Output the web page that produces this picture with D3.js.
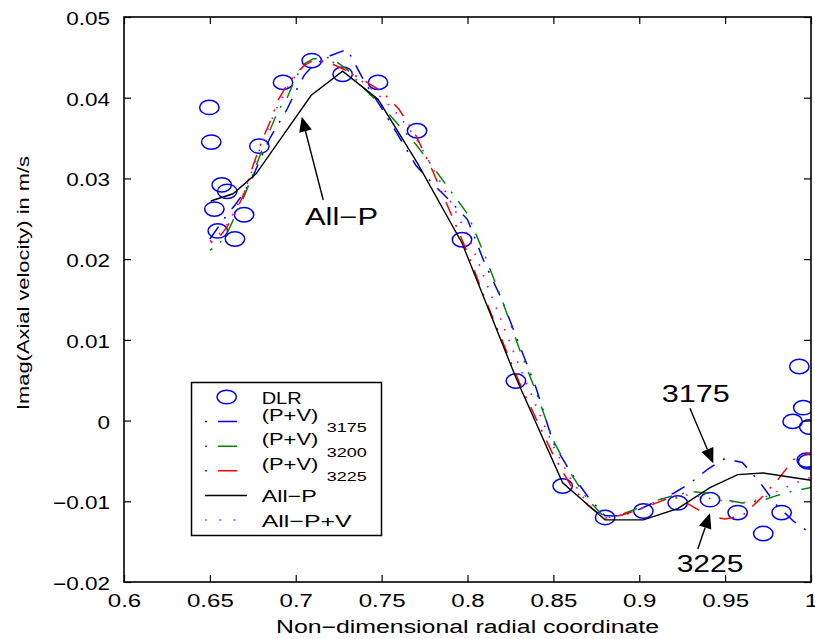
<!DOCTYPE html>
<html><head><meta charset="utf-8">
<script src="https://cdn.jsdelivr.net/npm/d3@7"></script>
<style>
body{margin:0;background:#fff}
svg{display:block}
text{font-family:"Liberation Sans",Arial,Helvetica,sans-serif;fill:#000}
</style>
</head><body>
<svg id="chart" width="815" height="639"></svg>
<script>
// ---------------- data ----------------
const dlrX = [0.6497,0.6508,0.6526,0.6546,0.6569,0.6601,0.6646,0.6699,0.6788,0.6926,0.7093,0.7273,0.7479,0.7706,0.7968,0.8282,0.8554,0.8801,0.9024,0.9224,0.9412,0.9573,0.9722,0.9829,0.9893,0.9932,0.9955,0.9990,0.9975,0.9983];
const dlrY = [0.0388,0.0345,0.0262,0.0235,0.0292,0.0284,0.0225,0.0255,0.0340,0.0419,0.0446,0.0429,0.0419,0.0359,0.0224,0.0049,-0.0081,-0.0120,-0.0112,-0.0102,-0.0098,-0.0114,-0.0140,-0.0114,-0.0001,0.0067,0.0016,-0.0008,-0.0049,-0.0051];

const allPX = [0.6505,0.6635,0.6770,0.7090,0.7273,0.7479,0.7706,0.7968,0.8282,0.8554,0.8801,0.9024,0.9224,0.9412,0.9573,0.9722,1.0000];
const allPY = [0.0272,0.0281,0.0306,0.0403,0.0433,0.0398,0.0320,0.0220,0.0053,-0.0077,-0.0123,-0.0123,-0.0109,-0.0083,-0.0067,-0.0065,-0.0074];

const simX = [0.650,0.655,0.660,0.665,0.670,0.675,0.680,0.685,0.690,0.695,0.700,0.705,0.710,0.720,0.730,0.740,0.750,0.760,0.770,0.780,0.790,0.800,0.810,0.820,0.830,0.840,0.850,0.860,0.870,0.880,0.890,0.900,0.910,0.920,0.930,0.940,0.950,0.960,0.970,0.980,0.990,1.000];
const pv3175 = [0.0225,0.0240,0.0255,0.0268,0.0283,0.0302,0.0327,0.0350,0.0368,0.0386,0.0408,0.0428,0.0440,0.0452,0.0460,0.0420,0.0387,0.0352,0.0316,0.0293,0.0272,0.0249,0.0195,0.0150,0.0095,0.0040,-0.0028,-0.0064,-0.0094,-0.0118,-0.0118,-0.0110,-0.0100,-0.0090,-0.0077,-0.0060,-0.0047,-0.0052,-0.0076,-0.0105,-0.0125,-0.0140];
const pv3200 = [0.0211,0.0218,0.0232,0.0255,0.0278,0.0305,0.0333,0.0360,0.0385,0.0400,0.0425,0.0442,0.0448,0.0450,0.0435,0.0411,0.0390,0.0366,0.0342,0.0314,0.0285,0.0256,0.0205,0.0150,0.0090,0.0035,-0.0025,-0.0065,-0.0098,-0.0120,-0.0116,-0.0108,-0.0099,-0.0093,-0.0088,-0.0090,-0.0098,-0.0102,-0.0100,-0.0093,-0.0087,-0.0083];
const pv3225 = [0.0220,0.0226,0.0240,0.0258,0.0282,0.0315,0.0345,0.0370,0.0398,0.0416,0.0430,0.0440,0.0446,0.0443,0.0433,0.0421,0.0408,0.0386,0.0353,0.0308,0.0258,0.0208,0.0152,0.0100,0.0048,0.0002,-0.0043,-0.0080,-0.0105,-0.0121,-0.0117,-0.0110,-0.0102,-0.0094,-0.0105,-0.0118,-0.0122,-0.0118,-0.0098,-0.0075,-0.0048,-0.0040];
const allPV  = [0.0222,0.0230,0.0243,0.0262,0.0283,0.0312,0.0342,0.0368,0.0392,0.0412,0.0428,0.0440,0.0446,0.0446,0.0434,0.0418,0.0400,0.0378,0.0350,0.0312,0.0272,0.0230,0.0176,0.0122,0.0068,0.0018,-0.0032,-0.0072,-0.0103,-0.0121,-0.0117,-0.0110,-0.0100,-0.0093,-0.0092,-0.0096,-0.0100,-0.0102,-0.0098,-0.0088,-0.0078,-0.0070];

const xTicks = [0.6,0.65,0.7,0.75,0.8,0.85,0.9,0.95,1];
const xTickLabels = ["0.6","0.65","0.7","0.75","0.8","0.85","0.9","0.95","1"];
const yTicks = [-0.02,-0.01,0,0.01,0.02,0.03,0.04,0.05];
const yTickLabels = ["\u22120.02","\u22120.01","0","0.01","0.02","0.03","0.04","0.05"];

const xLabel = "Non\u2212dimensional radial coordinate";
const yLabel = "Imag(Axial velocity) in m/s";

const legendNames = ["DLR","(P+V)","(P+V)","(P+V)","All\u2212P","All\u2212P+V"];
const legendSubs  = ["","3175","3200","3225","",""];

// annotations: text anchor, arrow tail, arrow tip (data coords)
const annText = ["All\u2212P","3175","3225"];
const annTextX = [0.7054,0.9131,0.9218];
const annTextY = [0.02423,0.00234,-0.01873];
const annTailX = [0.7160,0.9295,0.9341];
const annTailY = [0.02733,0.00152,-0.01590];
const annTipX  = [0.7035,0.9431,0.9412];
const annTipY  = [0.03765,-0.00530,-0.01149];

// ---------------- layout ----------------
const W=815,H=639, L=124,R=811,T=17,B=582;
const svg = d3.select("#chart");
svg.append("rect").attr("width",W).attr("height",H).attr("fill","#fff");
const x = d3.scaleLinear().domain([0.6,1]).range([L,R]);
const y = d3.scaleLinear().domain([-0.02,0.05]).range([B,T]);

svg.append("defs").append("clipPath").attr("id","clip")
  .append("rect").attr("x",L).attr("y",T).attr("width",R-L).attr("height",B-T);

const plot = svg.append("g").attr("clip-path","url(#clip)");
const line = d3.line().x(d=>x(d[0])).y(d=>y(d[1]));

// DLR circles
plot.selectAll("ellipse.dlr").data(dlrX.map((v,i)=>[v,dlrY[i]])).join("ellipse")
  .attr("class","dlr").attr("cx",d=>x(d[0])).attr("cy",d=>y(d[1]))
  .attr("rx",9.7).attr("ry",7.2).attr("fill","none").attr("stroke","#0000ff").attr("stroke-width",1.5);

const dashDot = "15,10,2,10";
const series = [
  {ys:pv3175,color:"#0000ff",dash:dashDot,off:0},
  {ys:pv3200,color:"#008a00",dash:dashDot,off:12},
  {ys:pv3225,color:"#ff0000",dash:dashDot,off:24},
];
series.forEach(s=>{
  plot.append("path").datum(simX.map((v,i)=>[v,s.ys[i]])).attr("d",line)
    .attr("fill","none").attr("stroke",s.color).attr("stroke-width",1.5)
    .attr("stroke-dasharray",s.dash).attr("stroke-dashoffset",s.off);
});
plot.append("path").datum(allPX.map((v,i)=>[v,allPY[i]])).attr("d",line)
  .attr("fill","none").attr("stroke","#000").attr("stroke-width",1.4);
plot.append("path").datum(simX.map((v,i)=>[v,allPV[i]])).attr("d",line)
  .attr("fill","none").attr("stroke","#e000e0").attr("stroke-width",1.6)
  .attr("stroke-dasharray","1.6,10");

// ---------------- axes ----------------
function styleAxis(g){ g.select(".domain").remove(); g.selectAll("line").attr("stroke","#000").attr("stroke-width",1.2); }
const xAxis = svg.append("g").attr("transform",`translate(0,${B})`)
  .call(d3.axisBottom(x).tickValues(xTicks).tickFormat((d,i)=>xTickLabels[i]).tickSizeInner(-7).tickSizeOuter(0).tickPadding(10));
styleAxis(xAxis);
xAxis.selectAll("text").attr("font-size",18.5).attr("dy",null).attr("y",0)
  .attr("transform","translate(0,25) scale(1.3,1)");
const xTop = svg.append("g").attr("transform",`translate(0,${T})`)
  .call(d3.axisTop(x).tickValues(xTicks).tickFormat("").tickSizeInner(-7).tickSizeOuter(0));
styleAxis(xTop);
const yAxis = svg.append("g").attr("transform",`translate(${L},0)`)
  .call(d3.axisLeft(y).tickValues(yTicks).tickFormat((d,i)=>yTickLabels[i]).tickSizeInner(-7).tickSizeOuter(0).tickPadding(14));
styleAxis(yAxis);
yAxis.selectAll("text").attr("font-size",18).attr("x",0).attr("dy","0.36em")
  .attr("transform","translate(-14,1) scale(1.25,1)");
const yRight = svg.append("g").attr("transform",`translate(${R},0)`)
  .call(d3.axisRight(y).tickValues(yTicks).tickFormat("").tickSizeInner(-7).tickSizeOuter(0));
styleAxis(yRight);
svg.append("rect").attr("x",L).attr("y",T).attr("width",R-L).attr("height",B-T)
  .attr("fill","none").attr("stroke","#000").attr("stroke-width",1.6);

svg.append("text").attr("x",(L+R)/2).attr("y",633).attr("text-anchor","middle")
  .attr("font-size",18).attr("textLength",383).attr("lengthAdjust","spacingAndGlyphs").text(xLabel);
svg.append("text").attr("transform","translate(29,283) rotate(-90)").attr("text-anchor","middle")
  .attr("font-size",16.5).attr("textLength",254).attr("lengthAdjust","spacingAndGlyphs").text(yLabel);

// ---------------- annotations ----------------
const annWidths = [73,68,66.7];
annText.forEach((t,i)=>{
  svg.append("text").attr("x",x(annTextX[i])).attr("y",y(annTextY[i])).attr("font-size",23)
    .attr("textLength",annWidths[i]).attr("lengthAdjust","spacingAndGlyphs").text(t);
  const x1=x(annTailX[i]),y1=y(annTailY[i]),x2=x(annTipX[i]),y2=y(annTipY[i]);
  const dx=x2-x1,dy=y2-y1,len=Math.hypot(dx,dy),ux=dx/len,uy=dy/len;
  const hl=15,hw=6.5;
  const bx=x2-ux*hl,by=y2-uy*hl;
  svg.append("line").attr("x1",x1).attr("y1",y1).attr("x2",bx).attr("y2",by)
    .attr("stroke","#000").attr("stroke-width",1.4);
  svg.append("path").attr("d",`M${x2},${y2}L${bx-uy*hw},${by+ux*hw}L${bx+uy*hw},${by-ux*hw}Z`).attr("fill","#000");
});

// ---------------- legend ----------------
const lg = svg.append("g");
lg.append("rect").attr("x",191.5).attr("y",382.5).attr("width",190).attr("height",153)
  .attr("fill","#fff").attr("stroke","#000").attr("stroke-width",1.5);
const legendStyles = [
  {type:"circle",color:"#0000ff"},
  {type:"line",color:"#0000ff",dash:"2,11,19,11"},
  {type:"line",color:"#008a00",dash:"2,11,19,11"},
  {type:"line",color:"#ff0000",dash:"2,11,19,11"},
  {type:"line",color:"#000",dash:null},
  {type:"line",color:"#e000e0",dash:"1.6,12.7"}
];
const legendWidths = [40,56.7,56.7,56.7,55,90];
legendNames.forEach((n,i)=>{
  const ry = 397 + i*24.6;
  const st = legendStyles[i];
  if(st.type==="circle"){
    lg.append("ellipse").attr("cx",226.7).attr("cy",ry).attr("rx",9.7).attr("ry",6.8)
      .attr("fill","none").attr("stroke",st.color).attr("stroke-width",1.5);
  } else {
    const l = lg.append("line").attr("x1",205).attr("x2",247).attr("y1",ry).attr("y2",ry)
      .attr("stroke",st.color).attr("stroke-width",1.5);
    if(st.dash) l.attr("stroke-dasharray",st.dash);
  }
  const sub = legendSubs[i];
  lg.append("text").attr("x",261.7).attr("y",sub? ry-1 : ry+6.5).attr("font-size",17)
    .attr("textLength",legendWidths[i]).attr("lengthAdjust","spacingAndGlyphs").text(n);
  if(sub){
    lg.append("text").attr("x",326.7).attr("y",ry+10.5).attr("font-size",12.5)
      .attr("textLength",40).attr("lengthAdjust","spacingAndGlyphs").text(sub);
  }
});
</script>
</body></html>
